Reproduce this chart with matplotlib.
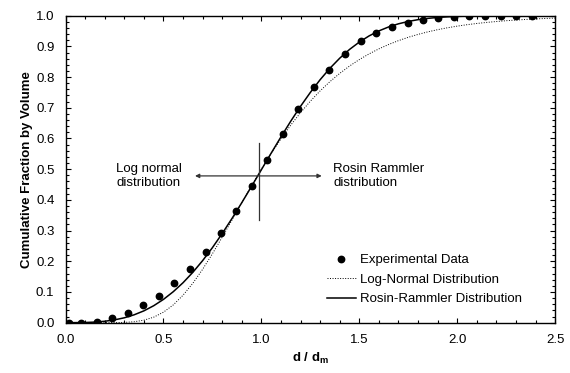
import numpy as np
import matplotlib
matplotlib.use('Agg')
from matplotlib import pyplot as plt
from matplotlib.ticker import MultipleLocator

plt.rcParams['font.family'] = ['Liberation Sans', 'DejaVu Sans']
plt.rcParams['font.size'] = 9.5

# experimental points
exp_x = [0.018, 0.079, 0.159, 0.236, 0.318, 0.397, 0.476, 0.554, 0.636, 0.716,
         0.794, 0.872, 0.951, 1.031, 1.109, 1.189, 1.269, 1.347, 1.427, 1.507,
         1.586, 1.666, 1.746, 1.824, 1.904, 1.984, 2.062, 2.142, 2.222, 2.301, 2.381]
exp_y = [0.0, 0.0, 0.003, 0.014, 0.031, 0.056, 0.088, 0.128, 0.175, 0.229,
         0.291, 0.364, 0.445, 0.529, 0.616, 0.695, 0.767, 0.823, 0.875, 0.917,
         0.944, 0.963, 0.977, 0.986, 0.992, 0.997, 0.999, 1.0, 1.0, 1.0, 1.0]

curve_x = [0.00, 0.05, 0.10, 0.15, 0.20, 0.25, 0.30, 0.35, 0.40, 0.45,
           0.50, 0.55, 0.60, 0.65, 0.70, 0.75, 0.80, 0.85, 0.90, 0.95,
           1.00, 1.05, 1.10, 1.15, 1.20, 1.25, 1.30, 1.35, 1.40, 1.45,
           1.50, 1.55, 1.60, 1.65, 1.70, 1.75, 1.80, 1.85, 1.90, 1.95,
           2.00, 2.05, 2.10, 2.15, 2.20, 2.25, 2.30, 2.35, 2.40, 2.45, 2.50]
rosin_y = [0.0, 0.0001, 0.0005, 0.0018, 0.0045, 0.0090, 0.0158, 0.0255, 0.0384, 0.0551,
           0.0758, 0.1008, 0.1301, 0.1640, 0.2021, 0.2444, 0.2905, 0.3395, 0.3910, 0.4442,
           0.4983, 0.5523, 0.6052, 0.6564, 0.7049, 0.7500, 0.7915, 0.8287, 0.8615, 0.8900,
           0.9140, 0.9341, 0.9504, 0.9634, 0.9735, 0.9812, 0.9870, 0.9912, 0.9942, 0.9962,
           0.9976, 0.9985, 0.9991, 0.9995, 0.9997, 0.9998, 0.9999, 1.0, 1.0, 1.0, 1.0]
lognorm_y = [0.0, 0.0, 0.0, 0.0, 0.0, 0.0001, 0.0008, 0.0029, 0.0080, 0.0178,
             0.0341, 0.0578, 0.0895, 0.1284, 0.1739, 0.2245, 0.2786, 0.3344, 0.3908, 0.4463,
             0.5, 0.5511, 0.5990, 0.6435, 0.6843, 0.7214, 0.7550, 0.7852, 0.8120, 0.8359,
             0.8570, 0.8756, 0.8919, 0.9062, 0.9187, 0.9296, 0.9390, 0.9473, 0.9544, 0.9606,
             0.9659, 0.9706, 0.9746, 0.9780, 0.9810, 0.9836, 0.9858, 0.9877, 0.9894, 0.9908, 0.9921]

fig = plt.figure(figsize=(5.7, 3.73), dpi=100)
ax = fig.add_axes([0.115, 0.135, 0.859, 0.823])

ax.plot(exp_x, exp_y, 'o', color='black', markersize=4.6, label='Experimental Data', zorder=4)
ax.plot(curve_x, lognorm_y, color='black', lw=0.7, linestyle=(0, (1, 1.6)),
        label='Log-Normal Distribution')
ax.plot(curve_x, rosin_y, color='black', lw=1.1, label='Rosin-Rammler Distribution')

# cross marking the median
ax.plot([0.988, 0.988], [0.334, 0.586], color='#333333', lw=0.9)
ax.annotate('', xy=(0.661, 0.478), xytext=(1.308, 0.478),
            arrowprops=dict(arrowstyle='<|-|>', color='#333333', lw=0.9,
                            mutation_scale=6, shrinkA=0, shrinkB=0))
ax.text(0.258, 0.478, 'Log normal\ndistribution', ha='left', va='center', linespacing=1.15)
ax.text(1.368, 0.478, 'Rosin Rammler\ndistribution', ha='left', va='center', linespacing=1.15)

ax.set_xlim(0, 2.5)
ax.set_ylim(0, 1.0)
ax.xaxis.set_major_locator(MultipleLocator(0.5))
ax.xaxis.set_minor_locator(MultipleLocator(0.1))
ax.yaxis.set_major_locator(MultipleLocator(0.1))
ax.yaxis.set_minor_locator(MultipleLocator(0.02))
ax.xaxis.set_major_formatter(matplotlib.ticker.FormatStrFormatter('%.1f'))
ax.yaxis.set_major_formatter(matplotlib.ticker.FormatStrFormatter('%.1f'))
ax.tick_params(which='both', direction='in', top=True, right=True, width=0.8)
ax.tick_params(which='major', length=3.4, pad=8)
ax.tick_params(which='minor', length=1.9)
for s in ax.spines.values():
    s.set_linewidth(1.0)

ax.set_xlabel(r'd / d$_{\mathregular{m}}$', fontweight='bold', labelpad=4)
ax.set_ylabel('Cumulative Fraction by Volume', fontweight='bold', labelpad=2)

ax.legend(loc='lower right', bbox_to_anchor=(0.945, 0.035), frameon=False,
          handlelength=2.2, handletextpad=0.3, labelspacing=0.55, borderpad=0)

fig.savefig('out.png', dpi=100)
